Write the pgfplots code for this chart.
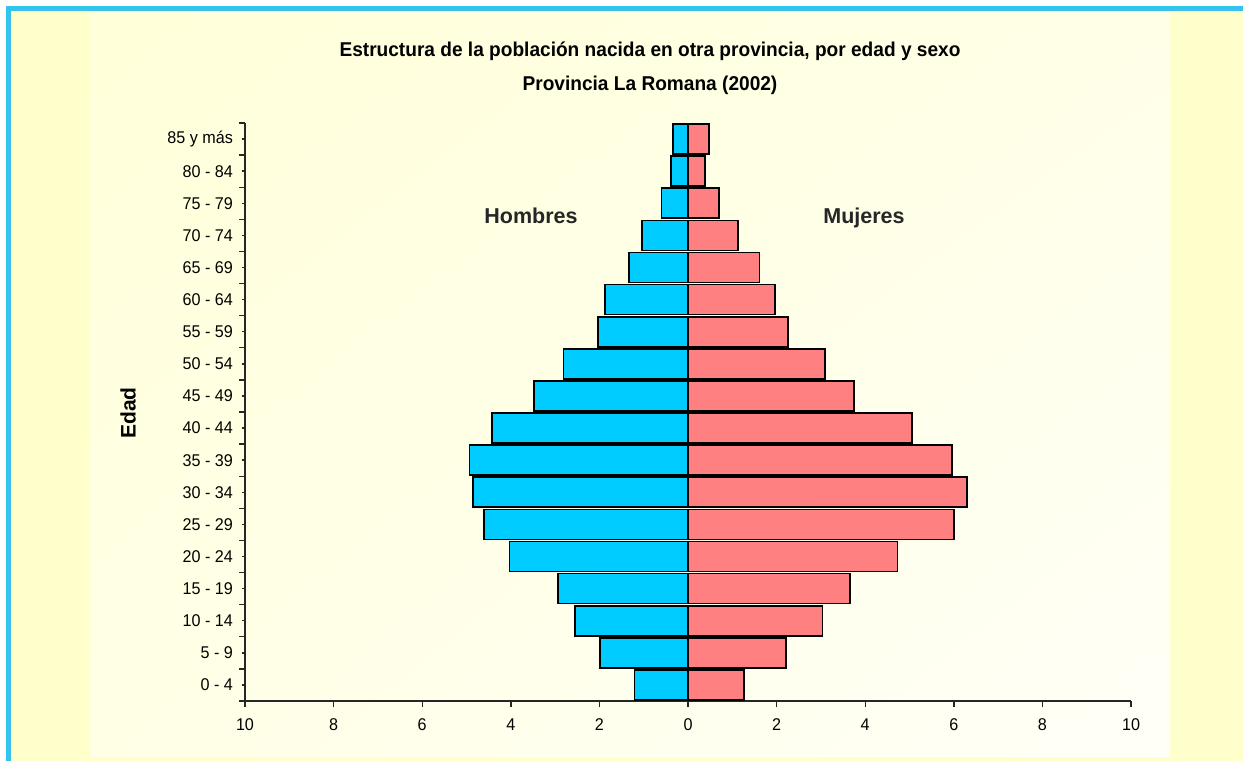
\documentclass[border=0pt]{standalone}
\usepackage{pgfplots}
\pgfplotsset{compat=1.18}
\usetikzlibrary{shadings}
\usepackage{fontspec}
\setmainfont{Liberation Sans}
\newfontfamily\narrowfont[FakeStretch=0.95]{Liberation Sans}
\newfontfamily\titlefont[FakeStretch=0.955]{Liberation Sans}
\definecolor{hcol}{HTML}{00CCFF}
\definecolor{mcol}{HTML}{FF8080}
\definecolor{framecol}{HTML}{33C3EB}
\definecolor{bgout}{HTML}{FFFFCC}
\definecolor{bgA}{HTML}{FFFFD9}
\definecolor{bgB}{HTML}{FFFFE8}
\definecolor{bgC}{HTML}{FFFFE6}
\definecolor{bgD}{HTML}{FFFFF7}
\pgfplotstableread{
idx hombres mujeres
0 -1.21 1.26
1 -1.99 2.21
2 -2.55 3.04
3 -2.94 3.65
4 -4.03 4.73
5 -4.60 6.00
6 -4.85 6.30
7 -4.93 5.96
8 -4.42 5.05
9 -3.47 3.75
10 -2.81 3.09
11 -2.03 2.26
12 -1.87 1.96
13 -1.33 1.61
14 -1.04 1.13
15 -0.60 0.70
16 -0.38 0.39
17 -0.34 0.48
}\datatable
\begin{document}
\begin{tikzpicture}[x=1pt,y=1pt]
\useasboundingbox (0,0) rectangle (1243,761);
\fill[white] (0,0) rectangle (1243,761);
\fill[framecol] (6,0) rectangle (1243,755);
\fill[bgout] (11,0) rectangle (1243,750);
\shade[upper left=bgA, upper right=bgB, lower left=bgC, lower right=bgD] (90,5) rectangle (1170,748);
\begin{axis}[
  at={(245pt,60pt)}, anchor=south west,
  scale only axis, width=886pt, height=578pt,
  xmin=-10, xmax=10, ymin=-0.5, ymax=17.5,
  axis lines=left,
  axis line style={line width=1.6pt, -, black!85},
  xtick={-10,-8,...,10},
  minor xtick={-10,-8,...,10},
  xticklabels={10,8,6,4,2,0,2,4,6,8,10},
  ytick={0,...,17},
  yticklabels={0 - 4,5 - 9,10 - 14,15 - 19,20 - 24,25 - 29,30 - 34,35 - 39,40 - 44,45 - 49,50 - 54,55 - 59,60 - 64,65 - 69,70 - 74,75 - 79,80 - 84,85 y más},
  minor ytick={-0.5,0.5,...,17.5},
  tick align=outside,
  major tick length=3.5pt, minor tick length=6pt,
  every tick/.style={line width=1.4pt, black!85},
  every minor tick/.style={line width=1.4pt, black!85},
  tick label style={font=\narrowfont\fontsize{17}{17}\selectfont, text=black},
  xticklabel style={yshift=-11pt},
  yticklabel style={xshift=-5pt},
]
\addplot[xbar, bar width=30pt, bar shift=0pt, fill=hcol, draw=black, line width=1.6pt]
  table[x=hombres, y=idx] {\datatable};
\addplot[xbar, bar width=30pt, bar shift=0pt, fill=mcol, draw=black, line width=1.6pt]
  table[x=mujeres, y=idx] {\datatable};
\end{axis}
\node[anchor=base, inner sep=0pt, font=\titlefont\bfseries\fontsize{20}{20}\selectfont] at (650,704) {Estructura de la población nacida en otra provincia, por edad y sexo};
\node[anchor=base, inner sep=0pt, font=\titlefont\bfseries\fontsize{20}{20}\selectfont] at (650,670) {Provincia La Romana (2002)};
\node[anchor=base, inner sep=0pt, font=\bfseries\fontsize{21.5}{21.5}\selectfont, text=black!85] at (531,537) {Hombres};
\node[anchor=base, inner sep=0pt, font=\bfseries\fontsize{21.5}{21.5}\selectfont, text=black!85] at (864,537) {Mujeres};
\node[font=\bfseries\fontsize{21}{21}\selectfont, rotate=90] at (128,348) {Edad};
\end{tikzpicture}
\end{document}
